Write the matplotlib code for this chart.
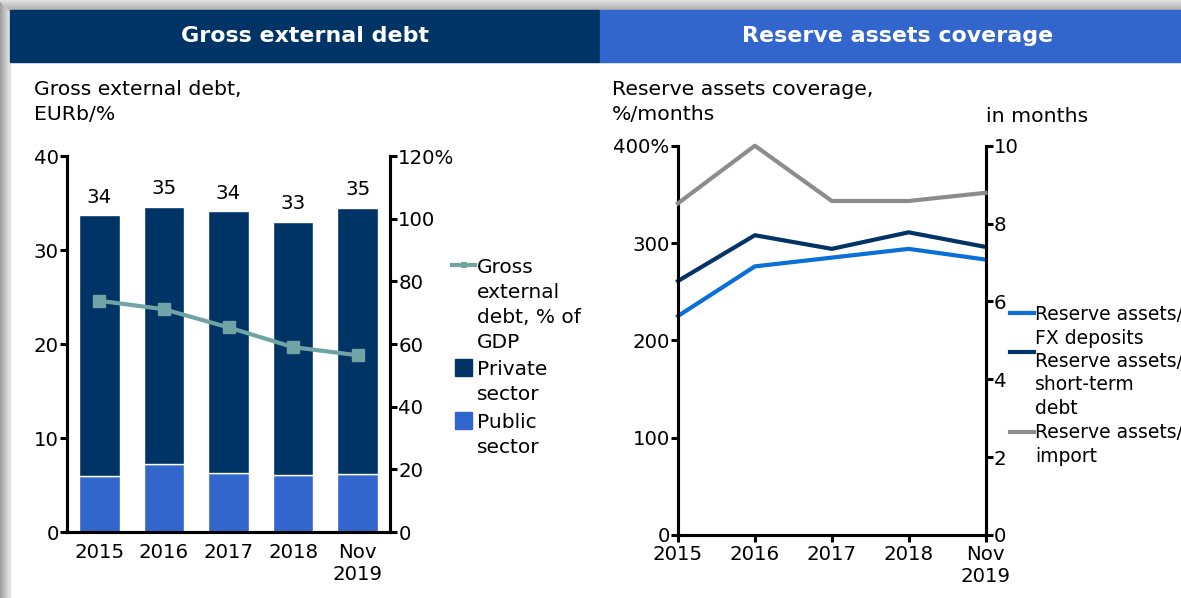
import numpy as np
import matplotlib
matplotlib.use("Agg")
from matplotlib import pyplot as plt
from matplotlib.patches import Rectangle
from matplotlib.lines import Line2D

plt.rcParams['font.family'] = ['DejaVu Sans']

# data
periods = ['2015', '2016', '2017', '2018', 'Nov\n2019']
public_sector = [6.0, 7.2, 6.3, 6.1, 6.2]
private_sector = [27.7, 27.4, 27.8, 26.9, 28.3]
debt_labels = [34, 35, 34, 33, 35]
debt_pct_gdp = [73.8, 71.1, 65.3, 59.0, 56.4]

fx_deposits = [225, 276, 285, 294, 283]
short_term_debt = [261, 308, 294, 311, 296]
import_months = [8.52, 10.0, 8.58, 8.58, 8.79]

NAVY = '#003366'
BLUE = '#3366cc'
TEAL = '#70a4a4'
FXBLUE = '#0a6fd6'
GREY = '#8c8c8c'
W, H = 1181, 598
FS = 14.7    # captions
TFS = 14.2   # tick labels

fig = plt.figure(figsize=(W / 100, H / 100), dpi=100)

def fx(px):
    return px / W

def fy(py):
    return 1 - py / H

def lines_at(x, base, pitch, text, size):
    # one text per line, baseline positioned in pixels
    for k, t in enumerate(text.split('\n')):
        fig.text(fx(x), fy(base + k * pitch), t, fontsize=size, va='baseline')

# screenshot border (grey shadow left and top)
for i in range(10):
    g = 0.62 + 0.03 * i
    fig.patches.append(Rectangle((fx(i), 0), fx(1), 1, transform=fig.transFigure,
                                 color=(g, g, g), zorder=0))
for i in range(10):
    g = 0.88 - 0.02 * i
    fig.patches.append(Rectangle((fx(i), fy(i + 1)), 1, 1 / H, transform=fig.transFigure,
                                 color=(g, g, g), zorder=0))

# header bars
fig.patches.append(Rectangle((fx(10), fy(62)), fx(590), 52 / H, transform=fig.transFigure,
                             color=NAVY, zorder=1))
fig.patches.append(Rectangle((fx(600), fy(62)), fx(581), 52 / H, transform=fig.transFigure,
                             color=BLUE, zorder=1))
fig.text(fx(305), fy(36), 'Gross external debt', color='white', fontsize=15.9,
         fontweight='bold', ha='center', va='center')
fig.text(fx(898), fy(36), 'Reserve assets coverage', color='white', fontsize=15.9,
         fontweight='bold', ha='center', va='center')

# subtitles
lines_at(34, 95, 24.5, 'Gross external debt,\nEURb/%', FS)
lines_at(612, 95, 24.5, 'Reserve assets coverage,\n%/months', FS)
lines_at(986, 122, 24.5, 'in months', FS)

def style_axis(a):
    a.spines['top'].set_visible(False)
    for s in ['left', 'right', 'bottom']:
        a.spines[s].set_linewidth(2.2)
    a.set_facecolor('none')

# ---- left chart
ax = fig.add_axes([fx(67), fy(532), fx(390 - 67), (532 - 156) / H])
x = np.arange(len(periods))
ax.bar(x, public_sector, width=0.63, color=BLUE, edgecolor='white', linewidth=1, zorder=2)
ax.bar(x, private_sector, width=0.63, bottom=public_sector, color=NAVY,
       edgecolor='white', linewidth=1, zorder=2)
totals = np.array(public_sector) + np.array(private_sector)
for xi, t, lab in zip(x, totals, debt_labels):
    ax.annotate(str(lab), (xi, t), xytext=(0, 6), textcoords='offset points',
                ha='center', va='bottom', fontsize=TFS)
ax.set_xlim(-0.5, 4.5)
ax.set_ylim(0, 40)
ax.set_yticks([0, 10, 20, 30, 40])
ax.set_xticks(x)
ax.set_xticklabels(periods)
ax.tick_params(axis='x', length=0, pad=8, labelsize=TFS)
ax.tick_params(axis='y', length=5, width=2.2, pad=1, labelsize=TFS)
style_axis(ax)

ax2 = ax.twinx()
ax2.plot(x, debt_pct_gdp, color=TEAL, lw=3, marker='s', markersize=9, zorder=3)
ax2.set_ylim(0, 120)
ax2.set_yticks([0, 20, 40, 60, 80, 100, 120])
ax2.set_yticklabels(['0', '20', '40', '60', '80', '100', '120%'])
ax2.tick_params(axis='y', length=5, width=2.2, pad=1, labelsize=TFS)
style_axis(ax2)

# left legend
fig.lines.append(Line2D([fx(452), fx(475)], [fy(265), fy(265)], transform=fig.transFigure,
                        color=TEAL, lw=3))
fig.lines.append(Line2D([fx(463.5)], [fy(265)], transform=fig.transFigure,
                        color=TEAL, marker='s', markersize=5, markeredgewidth=0))
fig.patches.append(Rectangle((fx(455), fy(376)), fx(17), 17 / H, transform=fig.transFigure, color=NAVY))
fig.patches.append(Rectangle((fx(455), fy(429)), fx(17), 17 / H, transform=fig.transFigure, color=BLUE))
lines_at(477, 273, 25, 'Gross\nexternal\ndebt, % of\nGDP', 14.5)
lines_at(477, 375, 25, 'Private\nsector', 14.5)
lines_at(477, 428, 25, 'Public\nsector', 14.5)

# ---- right chart
bx = fig.add_axes([fx(678), fy(535), fx(985.5 - 678), (535 - 145.7) / H])
bx.plot(x, fx_deposits, color=FXBLUE, lw=3, clip_on=False, zorder=3)
bx.plot(x, short_term_debt, color=NAVY, lw=3, clip_on=False, zorder=3)
bx.set_xlim(0, 4)
bx.set_ylim(0, 400)
bx.set_yticks([0, 100, 200, 300, 400])
bx.set_yticklabels(['0', '100', '200', '300', '400%'])
bx.set_xticks(x)
bx.set_xticklabels(periods)
bx.tick_params(axis='x', length=5, width=2.2, pad=2, labelsize=TFS)
bx.tick_params(axis='y', length=5, width=2.2, pad=1, labelsize=TFS)
style_axis(bx)

bx2 = bx.twinx()
bx2.plot(x, import_months, color=GREY, lw=3, clip_on=False, zorder=3)
bx2.set_ylim(0, 10)
bx2.set_yticks([0, 2, 4, 6, 8, 10])
bx2.tick_params(axis='y', length=5, width=2.2, pad=1, labelsize=TFS)
style_axis(bx2)

# right legend
leg_items = [(FXBLUE, 313, 320, 'Reserve assets/\nFX deposits'),
             (NAVY, 352, 367, 'Reserve assets/\nshort-term\ndebt'),
             (GREY, 432, 438, 'Reserve assets/\nimport')]
for col, yh, base, lab in leg_items:
    fig.lines.append(Line2D([fx(1010), fx(1034)], [fy(yh), fy(yh)], transform=fig.transFigure,
                            color=col, lw=3))
    lines_at(1035, base, 23.5, lab, 13.5)

fig.savefig('out.png', dpi=100)
